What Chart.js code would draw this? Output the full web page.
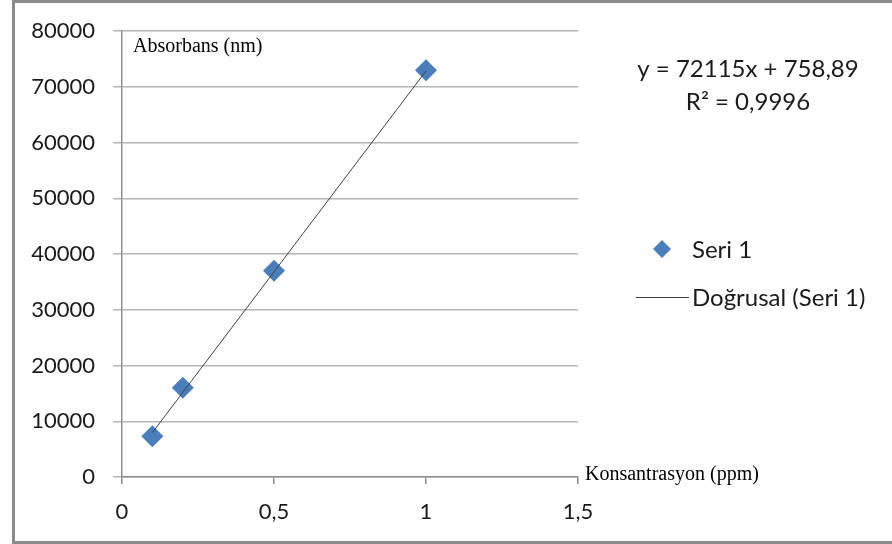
<!DOCTYPE html>
<html>
<head>
<meta charset="utf-8">
<script src="https://cdn.jsdelivr.net/npm/chart.js@4/dist/chart.umd.min.js"></script>
<style>
  body { margin: 0; background: #ffffff; }
  canvas { display: block; }
</style>
</head>
<body>
<canvas id="chart" width="892" height="544"></canvas>
<script>
// measured points (Seri 1)
var concentration = [0.1, 0.2, 0.5, 1];
var absorbance = [7300, 16000, 37000, 73000];

// linear trend line end points
var trendX = [0.1, 1];
var trendY = [7970, 72870];

var xTicks = [0, 0.5, 1, 1.5];
var yTicks = [0, 10000, 20000, 30000, 40000, 50000, 60000, 70000, 80000];

var seriesName = "Seri 1";
var trendName = "Doğrusal (Seri 1)";
var equationLines = ["y = 72115x + 758,89", "R² = 0,9996"];
var yTitle = "Absorbans (nm)";
var xTitle = "Konsantrasyon (ppm)";

var blue = "#4a7ebb";
var gridColor = "#b4b4b4";
var axisColor = "#8e8e8e";
var sans = "Lato";

var points = [];
for (var i = 0; i < concentration.length; i++) {
    points.push({ x: concentration[i], y: absorbance[i] });
}
var trend = [];
for (var j = 0; j < trendX.length; j++) {
    trend.push({ x: trendX[j], y: trendY[j] });
}

// text, legend and frame drawn on top of the chart
var extras = {
    id: "extras",
    afterDraw: function(chart) {
        var ctx = chart.ctx;
        var area = chart.chartArea;
        ctx.save();

        // axis titles inside plot
        ctx.fillStyle = "#000000";
        ctx.font = "20px 'Liberation Serif'";
        ctx.textAlign = "left";
        ctx.textBaseline = "middle";
        ctx.fillText(yTitle, area.left + 11, 47);
        ctx.fillText(xTitle, area.right + 7, 475);

        // equation
        ctx.fillStyle = "#1a1a1a";
        ctx.font = "24px " + sans;
        ctx.textAlign = "center";
        ctx.fillText(equationLines[0], 748, 69);
        ctx.fillText(equationLines[1], 748, 102);

        // legend
        ctx.textAlign = "left";
        ctx.fillText(seriesName, 692, 250);
        ctx.fillText(trendName, 692, 298);
        ctx.fillStyle = blue;
        ctx.beginPath();
        ctx.moveTo(662 - 9, 249);
        ctx.lineTo(662, 249 - 9);
        ctx.lineTo(662 + 9, 249);
        ctx.lineTo(662, 249 + 9);
        ctx.closePath();
        ctx.fill();
        ctx.strokeStyle = "#404040";
        ctx.lineWidth = 1;
        ctx.beginPath();
        ctx.moveTo(636, 297.5);
        ctx.lineTo(689, 297.5);
        ctx.stroke();

        // outer frame
        ctx.strokeStyle = "#8c8c8c";
        ctx.lineWidth = 3;
        ctx.beginPath();
        ctx.moveTo(892, 1.5);
        ctx.lineTo(13.5, 1.5);
        ctx.lineTo(13.5, 542.5);
        ctx.lineTo(892, 542.5);
        ctx.stroke();
        ctx.restore();
    }
};

var ctx = document.getElementById("chart");
var graph = new Chart(ctx, {
    type: "scatter",
    data: {
        datasets: [{
            label: seriesName,
            data: points,
            order: 2,
            pointStyle: "rectRot",
            pointRadius: 11,
            pointHoverRadius: 11,
            backgroundColor: blue,
            borderColor: blue,
            borderWidth: 0
        }, {
            type: "line",
            label: trendName,
            data: trend,
            order: 1,
            borderColor: "#404040",
            borderWidth: 1,
            pointRadius: 0,
            fill: false
        }]
    },
    options: {
        responsive: false,
        animation: false,
        layout: { padding: { left: 0, right: 314, top: 30, bottom: 0 } },
        plugins: {
            legend: { display: false },
            tooltip: { enabled: false }
        },
        scales: {
            x: {
                type: "linear",
                min: 0,
                max: 1.5,
                afterBuildTicks: function(scale) {
                    scale.ticks = xTicks.map(function(v) { return { value: v }; });
                },
                afterFit: function(scale) { scale.height = 67; },
                grid: {
                    drawOnChartArea: false,
                    color: axisColor,
                    lineWidth: 1.5,
                    tickLength: 7
                },
                border: { color: axisColor, width: 1.5 },
                ticks: {
                    color: "#1a1a1a",
                    font: { family: sans, size: 22 },
                    padding: 15,
                    maxRotation: 0,
                    callback: function(v) { return String(v).replace(".", ","); }
                }
            },
            y: {
                type: "linear",
                min: 0,
                max: 80000,
                afterBuildTicks: function(scale) {
                    scale.ticks = yTicks.map(function(v) { return { value: v }; });
                },
                afterFit: function(scale) { scale.width = 122; },
                grid: {
                    color: gridColor,
                    lineWidth: 1.5,
                    tickLength: 9
                },
                border: { color: axisColor, width: 1.5 },
                ticks: {
                    color: "#1a1a1a",
                    font: { family: sans, size: 22 },
                    padding: 18,
                    callback: function(v) { return String(v); }
                }
            }
        }
    },
    plugins: [extras]
});
</script>
</body>
</html>
